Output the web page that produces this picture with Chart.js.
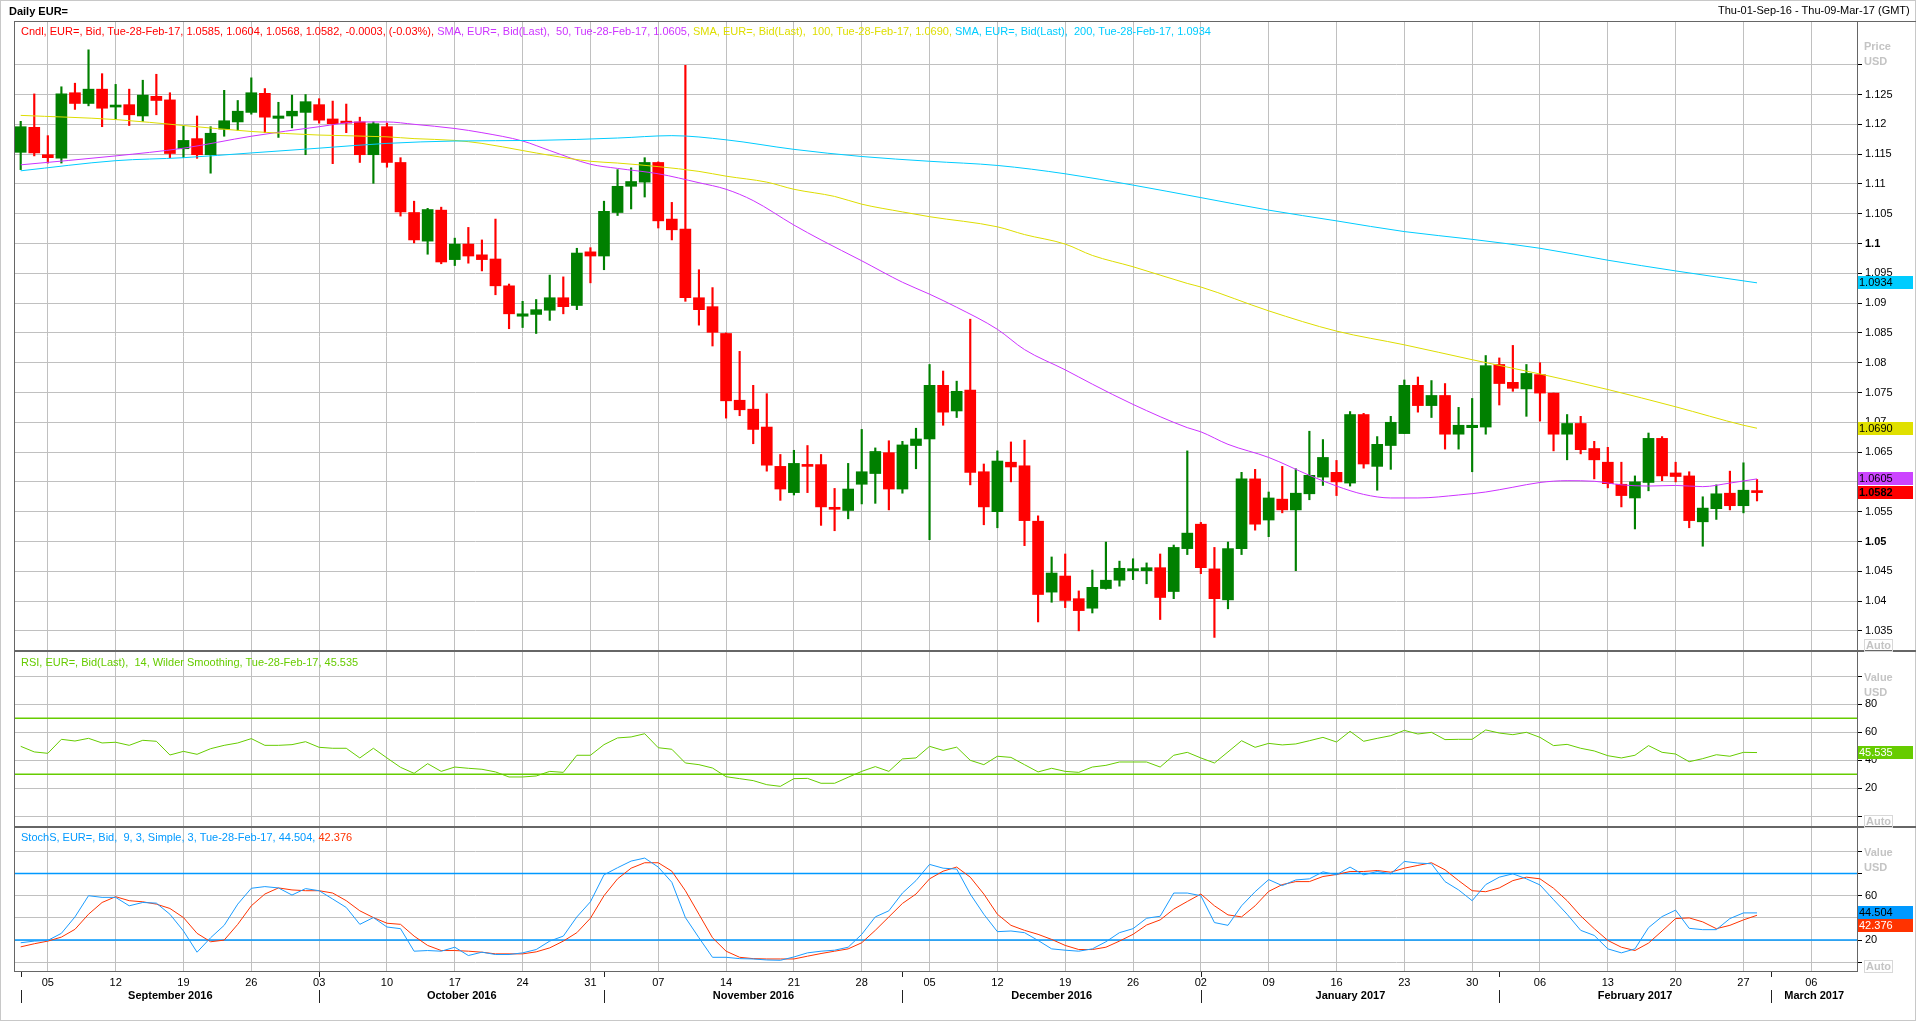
<!DOCTYPE html>
<html><head><meta charset="utf-8">
<script src="https://cdn.jsdelivr.net/npm/chart.js@4.4.0/dist/chart.umd.min.js"></script>
<style>
body{margin:0;background:#fff;font-family:'Liberation Sans',Arial,sans-serif;}
#wrap{position:relative;width:1916px;height:1022px;overflow:hidden;background:#fff;}
canvas{position:absolute;left:0;}
.t{position:absolute;font-size:11px;white-space:pre;line-height:13px;}
.ln{position:absolute;background:#666;}
.g{color:#c4c4c4;font-weight:bold;}
.auto{position:absolute;font-size:11px;line-height:11px;color:#c4c4c4;border:1px solid #d8d8d8;padding:0 1px;font-weight:bold;}
</style></head><body>
<div id="wrap">
<canvas id="c1" width="1916" height="629" style="top:22px"></canvas>
<canvas id="c2" width="1916" height="176" style="top:651px"></canvas>
<canvas id="c3" width="1916" height="195" style="top:827px"></canvas>

<div style="position:absolute;left:0;top:0;width:1914px;height:1019px;border:1px solid #c8c8c8;"></div>
<div class="ln" style="left:14px;top:21px;width:1902px;height:1px;"></div>
<div class="ln" style="left:14px;top:650px;width:1902px;height:2px;"></div>
<div class="ln" style="left:14px;top:826px;width:1902px;height:2px;"></div>
<div class="ln" style="left:14px;top:971px;width:1844px;height:1px;"></div>
<div class="ln" style="left:14px;top:21px;width:1px;height:951px;"></div>
<div class="ln" style="left:1857px;top:21px;width:1px;height:951px;"></div>

<div class="t" style="left:9px;top:5px;font-weight:bold;color:#000;">Daily EUR=</div>
<div class="t" style="left:1718px;top:4px;color:#000;">Thu-01-Sep-16 - Thu-09-Mar-17 (GMT)</div>
<div class="t" style="left:21px;top:25px;"><span style="color:#ff0000">Cndl, EUR=, Bid, Tue-28-Feb-17, 1.0585, 1.0604, 1.0568, 1.0582, -0.0003, (-0.03%), </span><span style="color:#cc33ff">SMA, EUR=, Bid(Last),  50, Tue-28-Feb-17, 1.0605, </span><span style="color:#dede00">SMA, EUR=, Bid(Last),  100, Tue-28-Feb-17, 1.0690, </span><span style="color:#00ccff">SMA, EUR=, Bid(Last),  200, Tue-28-Feb-17, 1.0934</span></div>
<div class="t" style="left:21px;top:656px;color:#66cc00;">RSI, EUR=, Bid(Last),  14, Wilder Smoothing, Tue-28-Feb-17, 45.535</div>
<div class="t" style="left:21px;top:831px;"><span style="color:#0099ff">StochS, EUR=, Bid,  9, 3, Simple, 3, Tue-28-Feb-17, 44.504, </span><span style="color:#ff3300">42.376</span></div>

<div class="t g" style="left:1864px;top:40px;">Price</div>
<div class="t g" style="left:1864px;top:55px;">USD</div>
<div class="auto" style="left:1864px;top:639px;">Auto</div>
<div class="t g" style="left:1864px;top:671px;">Value</div>
<div class="t g" style="left:1864px;top:686px;">USD</div>
<div class="auto" style="left:1864px;top:815px;">Auto</div>
<div class="t g" style="left:1864px;top:846px;">Value</div>
<div class="t g" style="left:1864px;top:861px;">USD</div>
<div class="auto" style="left:1864px;top:960px;">Auto</div>
</div>
<script>
// ---------- data (index 0 = Thu 01-Sep-2016, one slot per weekday) ----------
const openP = [1.1153,1.1195,1.1149,1.1143,1.1253,1.1235,1.1259,1.1229,1.1233,1.1214,
1.1247,1.1241,1.1159,1.1176,1.1149,1.1192,1.1204,1.1220,1.1252,1.1210,
1.1214,1.1220,1.1233,1.1209,1.1204,1.1204,1.1149,1.1196,1.1136,1.1052,
1.1004,1.1056,1.0973,1.0999,1.0981,1.0974,1.0929,1.0878,1.0881,1.0888,
1.0909,1.0896,1.0986,1.0979,1.1052,1.1096,1.1103,1.1136,1.1041,1.1024,
1.0909,1.0894,1.0849,1.0737,1.0722,1.0692,1.0626,1.0582,1.0629,1.0629,
1.0557,1.0552,1.0596,1.0614,1.0649,1.0588,1.0661,1.0672,1.0762,1.0719,
1.0754,1.0617,1.0550,1.0633,1.0627,1.0534,1.0415,1.0442,1.0404,1.0388,
1.0421,1.0435,1.0451,1.0451,1.0456,1.0416,1.0488,1.0529,1.0454,1.0402,
1.0488,1.0605,1.0536,1.0571,1.0553,1.0580,1.0608,1.0616,1.0598,1.0713,
1.0626,1.0661,1.0681,1.0762,1.0728,1.0745,1.0680,1.0691,1.0692,1.0797,
1.0767,1.0756,1.0780,1.0749,1.0680,1.0698,1.0656,1.0633,1.0596,1.0573,
1.0599,1.0673,1.0615,1.0610,1.0533,1.0555,1.0581,1.0560,1.0585];
const highP = [1.1205,1.1251,1.1181,1.1263,1.1269,1.1325,1.1285,1.1267,1.1259,1.1274,
1.1284,1.1253,1.1197,1.1214,1.1196,1.1257,1.1240,1.1278,1.1260,1.1237,
1.1249,1.1250,1.1243,1.1239,1.1234,1.1212,1.1204,1.1202,1.1144,1.1071,
1.1059,1.1061,1.1009,1.1027,1.1006,1.1041,1.0932,1.0903,1.0906,1.0947,
1.0944,1.0992,1.0993,1.1071,1.1124,1.1127,1.1144,1.1137,1.1069,1.1299,
1.0956,1.0926,1.0850,1.0819,1.0762,1.0748,1.0646,1.0653,1.0661,1.0646,
1.0589,1.0631,1.0688,1.0657,1.0669,1.0668,1.0690,1.0797,1.0786,1.0769,
1.0873,1.0630,1.0652,1.0667,1.0670,1.0543,1.0474,1.0479,1.0417,1.0452,
1.0499,1.0467,1.0471,1.0464,1.0479,1.0494,1.0652,1.0532,1.0490,1.0499,
1.0616,1.0621,1.0583,1.0626,1.0622,1.0685,1.0671,1.0636,1.0718,1.0715,
1.0676,1.0710,1.0771,1.0776,1.0770,1.0765,1.0725,1.0740,1.0812,1.0808,
1.0829,1.0797,1.0800,1.0749,1.0713,1.0710,1.0668,1.0658,1.0633,1.0610,
1.0682,1.0676,1.0633,1.0617,1.0575,1.0595,1.0618,1.0632,1.0604];
const lowP = [1.1124,1.1147,1.1135,1.1135,1.1225,1.1231,1.1196,1.1209,1.1198,1.1205,
1.1216,1.1144,1.1144,1.1143,1.1118,1.1180,1.1190,1.1217,1.1186,1.1178,
1.1194,1.1149,1.1202,1.1134,1.1186,1.1136,1.1101,1.1128,1.1046,1.1001,
1.0982,1.0966,1.0963,1.0967,1.0954,1.0914,1.0857,1.0859,1.0849,1.0871,
1.0882,1.0889,1.0934,1.0956,1.1047,1.1058,1.1078,1.1026,1.1006,1.0903,
1.0863,1.0828,1.0707,1.0711,1.0664,1.0618,1.0569,1.0578,1.0582,1.0527,
1.0518,1.0538,1.0563,1.0564,1.0553,1.0581,1.0622,1.0503,1.0695,1.0708,
1.0595,1.0528,1.0523,1.0600,1.0493,1.0365,1.0398,1.0389,1.0350,1.0380,
1.0420,1.0425,1.0436,1.0429,1.0369,1.0404,1.0478,1.0446,1.0339,1.0387,
1.0478,1.0519,1.0508,1.0548,1.0451,1.0570,1.0594,1.0577,1.0593,1.0623,
1.0586,1.0621,1.0681,1.0717,1.0708,1.0655,1.0655,1.0617,1.0680,1.0729,
1.0752,1.0710,1.0702,1.0652,1.0637,1.0647,1.0605,1.0590,1.0558,1.0521,
1.0585,1.0602,1.0600,1.0523,1.0492,1.0537,1.0553,1.0548,1.0568];
const closeP = [1.1196,1.1152,1.1144,1.1251,1.1235,1.1259,1.1227,1.1232,1.1216,1.1249,
1.1240,1.1151,1.1173,1.1149,1.1185,1.1206,1.1222,1.1253,1.1212,1.1214,
1.1222,1.1238,1.1207,1.1201,1.1202,1.1149,1.1201,1.1136,1.1053,1.1006,
1.1057,1.0969,1.0999,1.0979,1.0973,1.0929,1.0882,1.0882,1.0889,1.0909,
1.0894,1.0984,1.0979,1.1054,1.1096,1.1104,1.1136,1.1038,1.1023,1.0909,
1.0889,1.0851,1.0736,1.0721,1.0688,1.0628,1.0588,1.0631,1.0626,1.0558,
1.0554,1.0588,1.0617,1.0651,1.0588,1.0662,1.0672,1.0762,1.0717,1.0752,
1.0616,1.0558,1.0635,1.0625,1.0535,1.0411,1.0447,1.0401,1.0384,1.0423,
1.0435,1.0455,1.0454,1.0456,1.0406,1.0490,1.0514,1.0456,1.0404,1.0488,
1.0605,1.0529,1.0573,1.0553,1.0581,1.0611,1.0641,1.0600,1.0713,1.0630,
1.0663,1.0700,1.0762,1.0728,1.0745,1.0680,1.0695,1.0695,1.0795,1.0765,
1.0757,1.0782,1.0749,1.0680,1.0698,1.0654,1.0637,1.0597,1.0577,1.0600,
1.0673,1.0610,1.0609,1.0535,1.0556,1.0580,1.0560,1.0586,1.0582];

const sma50Idx = [0,7,12,17,22,25,27,29,32,34,37,39,42,44,47,50,52,54,57,59,62,65,67,69,72,74,77,79,82,86,87,89,92,95,97,99,101,103,106,108,110,112,114,116,118,120,122,124,126,128];
const sma50Val = [1.1132,1.1147,1.1160,1.1180,1.1196,1.1204,1.1204,1.1200,1.1193,1.1186,1.1172,1.1156,1.1133,1.1126,1.1117,1.1102,1.1091,1.1072,1.1031,1.1006,1.0971,1.0935,1.0915,1.0893,1.0856,1.0822,1.0788,1.0764,1.0730,1.0691,1.0684,1.0663,1.0641,1.0611,1.0593,1.0579,1.0573,1.0573,1.0578,1.0583,1.0591,1.0599,1.0602,1.0601,1.0595,1.0593,1.0594,1.0592,1.0598,1.0605];
const sma100Idx = [0,7,12,17,22,27,29,32,34,37,39,42,44,47,50,52,55,57,60,62,65,67,72,74,77,79,82,86,87,92,97,102,107,112,117,122,127,128];
const sma100Val = [1.1215,1.1208,1.1198,1.1188,1.1182,1.1179,1.1176,1.1173,1.1168,1.1156,1.1148,1.1138,1.1135,1.1129,1.1121,1.1113,1.1103,1.1091,1.1079,1.1066,1.1053,1.1045,1.1028,1.1015,1.0999,1.0980,1.0961,1.0933,1.0927,1.0887,1.0853,1.0830,1.0805,1.0781,1.0755,1.0726,1.0695,1.0690];
const sma200Idx = [0,7,12,17,22,27,32,38,44,48,52,57,62,67,72,77,82,87,92,97,102,107,112,117,122,128];
const sma200Val = [1.1122,1.1139,1.1144,1.1152,1.1160,1.1168,1.1172,1.1173,1.1177,1.1181,1.1174,1.1158,1.1146,1.1138,1.1131,1.1117,1.1098,1.1077,1.1056,1.1038,1.1020,1.1007,1.0992,1.0972,1.0954,1.0934];

const rsi14 = [50.0,46.0,45.0,55.0,53.8,55.7,52.4,52.9,50.7,54.3,
53.6,43.8,46.4,44.3,48.3,50.7,52.4,55.5,50.7,50.7,
51.2,53.3,49.3,48.6,48.6,41.7,48.6,41.7,35.0,30.7,
37.6,32.1,35.2,34.3,33.6,31.7,28.1,28.1,28.8,32.1,
31.4,43.6,43.6,51.2,56.0,56.7,59.0,49.0,47.9,38.1,
36.9,34.5,28.3,26.9,25.5,22.6,21.4,26.9,27.1,23.6,
23.6,27.9,32.1,35.5,32.1,41.0,41.7,50.0,47.1,49.4,
40.0,36.9,42.9,42.1,36.9,31.7,34.3,32.1,31.4,35.2,
36.4,38.8,38.8,38.8,35.2,43.6,45.7,41.7,38.1,46.0,
54.0,49.3,52.1,51.0,51.7,54.0,56.4,53.1,60.7,53.6,
55.7,57.6,61.4,58.8,60.0,54.8,55.0,55.0,61.7,59.5,
58.3,60.0,56.4,50.5,51.4,48.6,46.7,43.3,41.7,43.6,
50.5,45.7,44.5,39.0,41.2,44.0,42.9,45.7,45.535];
const stochK = [17.6,19.1,19.7,26.1,40.9,60.0,58.5,58.5,50.9,53.9,
53.3,43.3,28.2,9.1,22.1,33.3,52.4,66.7,68.2,67.0,
60.6,66.4,64.5,57.0,49.4,34.2,40.3,31.8,30.3,10.0,
10.6,10.0,13.6,6.1,9.1,7.0,7.0,8.5,11.5,19.1,
23.6,40.9,54.5,78.8,85.2,91.2,93.9,85.8,72.1,40.3,
22.1,4.5,4.5,3.3,3.0,2.1,1.8,4.8,8.5,10.0,
10.9,13.6,25.2,40.9,46.4,62.4,73.6,88.2,84.8,84.0,
61.5,43.3,27.6,28.2,26.7,19.7,12.1,10.9,10.0,12.1,
18.5,26.7,30.3,39.7,41.5,62.4,62.4,60.0,35.8,33.3,
50.9,63.6,74.5,69.1,74.2,75.2,81.5,78.8,85.8,78.8,
81.8,79.7,90.9,89.4,88.8,72.7,65.2,55.5,70.0,76.7,
79.7,75.2,69.7,56.4,43.3,28.8,24.2,12.1,8.5,12.1,
31.2,41.2,47.0,30.6,29.4,29.4,39.4,44.5,44.504];
const stochD = [13.9,16.7,19.1,22.7,29.7,43.3,53.9,59.1,55.5,54.5,
52.4,48.5,40.3,26.1,18.5,20.0,34.2,50.9,61.5,67.0,
65.2,64.5,64.5,62.4,55.5,46.4,40.3,35.2,34.2,23.6,
15.2,10.6,10.6,10.0,9.1,7.6,7.6,7.6,9.4,13.0,
19.1,26.7,39.7,60.0,75.2,84.8,89.7,89.7,82.1,64.5,
43.3,22.1,10.0,4.5,3.3,3.0,3.0,3.0,5.5,7.9,
10.0,12.1,17.6,28.8,40.9,53.0,61.5,75.2,82.1,85.8,
76.7,61.5,43.3,33.3,28.8,25.2,20.6,15.2,11.5,11.5,
13.6,19.1,25.2,33.6,38.2,47.9,54.8,61.5,50.9,42.7,
40.9,50.9,63.9,70.0,72.7,72.7,77.3,79.1,81.8,81.8,
82.7,81.2,84.8,87.3,89.7,83.3,73.6,64.5,63.6,67.0,
73.6,76.7,75.2,66.7,55.5,41.8,30.3,19.7,13.6,10.6,
17.3,28.2,39.4,40.0,36.4,30.3,33.3,38.2,42.376];

// ---------- axis labels ----------
const dayTickIdx = [2,7,12,17,22,27,32,37,42,47,52,57,62,67,72,77,82,87,92,97,102,107,112,117,122,127,132];
const dayTickLabels = ['05','12','19','26','03','10','17','24','31','07','14','21','28','05','12','19','26','02','09','16','23','30','06','13','20','27','06'];
const monthStartIdx = [0,22,43,65,87,109,129];
const monthNames = ['September 2016','October 2016','November 2016','December 2016','January 2017','February 2017','March 2017'];
const priceTicks = [1.035,1.04,1.045,1.05,1.055,1.06,1.065,1.07,1.075,1.08,1.085,1.09,1.095,1.1,1.105,1.11,1.115,1.12,1.125,1.13];
const oscTicks = [0,20,40,60,80,100];

// ---------- common settings ----------
const FONT = '"Liberation Sans", Arial, sans-serif';
const XMIN = -0.42, XMAX = 135.37;
const GRID = '#c0c0c0';
const UP = '#008000', DOWN = '#ff0000';

function zeroPad(s){ s.paddingTop = 0; s.paddingBottom = 0; s.paddingLeft = 0; s.paddingRight = 0; }
function xAxis(showLabels){
  return {
    type:'linear', min:XMIN, max:XMAX, offset:false,
    afterBuildTicks: s => { s.ticks = dayTickIdx.map(v => ({value:v})); },
    ticks:{ display:showLabels, autoSkip:false, maxRotation:0, padding:4, color:'#000',
      font:{family:FONT, size:11},
      callback: v => { const k = dayTickIdx.indexOf(v); return k >= 0 ? dayTickLabels[k] : ''; } },
    grid:{ color:GRID, lineWidth:1, drawTicks:false, offset:false },
    border:{ display:false },
    afterFit: s => { s.height = showLabels ? 50 : 0; zeroPad(s); }
  };
}
function yAxis(min, max, ticks, labelFn, boldFn){
  return {
    position:'right', min:min, max:max,
    afterBuildTicks: s => { s.ticks = ticks.map(v => ({value:v})); },
    ticks:{ padding:3, color:'#000', autoSkip:false,
      font: c => ({family:FONT, size:11, weight: boldFn && c.tick && boldFn(c.tick.value) ? 'bold' : 'normal'}),
      callback: labelFn },
    grid:{ color:GRID, lineWidth:1, tickLength:5, tickColor:'#000', drawTicks:true },
    border:{ display:false },
    afterFit: s => { s.width = 59; zeroPad(s); }
  };
}
function boxPlugin(items){
  return { id:'valueBoxes', afterDraw(chart){
    const ctx = chart.ctx, ys = chart.scales.y, ca = chart.chartArea, h = 13;
    const list = items.map(it => Object.assign({}, it, {py: ys.getPixelForValue(it.value)})).sort((a,b) => a.py - b.py);
    let prev = -1e9;
    ctx.save();
    list.forEach(it => {
      let top = Math.round(it.py - h/2);
      if (top < prev) top = prev;
      prev = top + h;
      ctx.fillStyle = it.bg; ctx.fillRect(ca.right + 1, top, 55, h);
      ctx.fillStyle = it.fg; ctx.font = (it.bold ? 'bold ' : '') + '11px ' + FONT;
      ctx.textAlign = 'left'; ctx.textBaseline = 'middle';
      ctx.fillText(it.text, ca.right + 2, top + h/2 + 0.5);
    });
    ctx.restore();
  }};
}
const baseOpts = { responsive:false, animation:false, devicePixelRatio:1,
  plugins:{ legend:{display:false}, tooltip:{enabled:false} },
  layout:{ padding:{left:15, right:0, top:0, bottom:0} } };

const idx = closeP.map((_, i) => i);
const candleColors = idx.map(i => closeP[i] >= openP[i] ? UP : DOWN);
const pts = (ix, vals) => ix.map((x, k) => ({x:x, y:vals[k]}));
const lineDs = (data, color, order, width) => ({ type:'line', data:data, borderColor:color, borderWidth:width||1,
  pointRadius:0, fill:false, cubicInterpolationMode:'monotone', order:order });

// ---------- price chart ----------
new Chart(document.getElementById('c1'), {
  type:'bar',
  data:{ datasets:[
    lineDs(pts(sma200Idx, sma200Val), '#00ccff', 0),
    lineDs(pts(sma100Idx, sma100Val), '#dddd00', 0),
    lineDs(pts(sma50Idx, sma50Val), '#cc33ff', 0),
    { type:'bar', data: idx.map(i => ({x:i, y:[Math.min(openP[i], closeP[i]), Math.max(openP[i], closeP[i])]})),
      backgroundColor:candleColors, borderWidth:0, barThickness:11, minBarLength:2, grouped:false, order:1 },
    { type:'bar', data: idx.map(i => ({x:i, y:[lowP[i], highP[i]]})),
      backgroundColor:candleColors, borderWidth:0, barThickness:1.5, grouped:false, order:2 }
  ]},
  options: Object.assign({}, baseOpts, {
    scales:{
      x: xAxis(false),
      y: yAxis(1.03162, 1.13717, priceTicks,
        v => Math.abs(v - 1.13) < 1e-6 ? '' : String(Number(v.toFixed(3))),
        v => Math.abs(v - 1.1) < 1e-6 || Math.abs(v - 1.05) < 1e-6)
    }
  }),
  plugins:[ boxPlugin([
    {value:sma200Val[sma200Val.length-1], text:sma200Val[sma200Val.length-1].toFixed(4), bg:'#00ccff', fg:'#000'},
    {value:sma100Val[sma100Val.length-1], text:sma100Val[sma100Val.length-1].toFixed(4), bg:'#e0e000', fg:'#000'},
    {value:sma50Val[sma50Val.length-1], text:sma50Val[sma50Val.length-1].toFixed(4), bg:'#cc44ff', fg:'#000'},
    {value:closeP[closeP.length-1], text:closeP[closeP.length-1].toFixed(4), bg:'#ff0000', fg:'#000', bold:true}
  ]) ]
});

// ---------- RSI chart ----------
new Chart(document.getElementById('c2'), {
  type:'line',
  data:{ datasets:[
    lineDs([{x:XMIN,y:70},{x:XMAX,y:70}], '#66cc00', 1, 1.5),
    lineDs([{x:XMIN,y:30},{x:XMAX,y:30}], '#66cc00', 1, 1.5),
    Object.assign(lineDs(idx.map(i => ({x:i, y:rsi14[i]})), '#66cc00', 0), {cubicInterpolationMode:'default', tension:0})
  ]},
  options: Object.assign({}, baseOpts, {
    scales:{ x: xAxis(false),
      y: yAxis(-7.64, 118.1, oscTicks, v => (v >= 20 && v <= 80) ? String(v) : '') }
  }),
  plugins:[ boxPlugin([{value:rsi14[rsi14.length-1], text:rsi14[rsi14.length-1].toFixed(3), bg:'#66cc00', fg:'#fff'}]) ]
});

// ---------- Stochastic chart ----------
const monthPlugin = { id:'months', afterDraw(chart){
  const ctx = chart.ctx, xs = chart.scales.x, ca = chart.chartArea;
  ctx.save();
  ctx.strokeStyle = '#222'; ctx.lineWidth = 1; ctx.fillStyle = '#000';
  ctx.font = 'bold 11px ' + FONT; ctx.textAlign = 'center'; ctx.textBaseline = 'middle';
  monthStartIdx.forEach((s, k) => {
    const x = Math.round(xs.getPixelForValue(s)) + 0.5;
    ctx.beginPath();
    ctx.moveTo(x, ca.bottom); ctx.lineTo(x, ca.bottom + 5);
    ctx.moveTo(x, ca.bottom + 18); ctx.lineTo(x, ca.bottom + 31);
    ctx.stroke();
    const xe = k + 1 < monthStartIdx.length ? xs.getPixelForValue(monthStartIdx[k+1]) : ca.right;
    ctx.fillText(monthNames[k], (x + xe) / 2, ca.bottom + 24);
  });
  ctx.restore();
}};
new Chart(document.getElementById('c3'), {
  type:'line',
  data:{ datasets:[
    lineDs([{x:XMIN,y:80},{x:XMAX,y:80}], '#0099ff', 2, 1.5),
    lineDs([{x:XMIN,y:20},{x:XMAX,y:20}], '#0099ff', 2, 1.5),
    Object.assign(lineDs(idx.map(i => ({x:i, y:stochD[i]})), '#ff3300', 1), {cubicInterpolationMode:'default', tension:0}),
    Object.assign(lineDs(idx.map(i => ({x:i, y:stochK[i]})), '#1a9cff', 0), {cubicInterpolationMode:'default', tension:0})
  ]},
  options: Object.assign({}, baseOpts, {
    scales:{ x: xAxis(true),
      y: yAxis(-8.74, 121.9, oscTicks, v => (v >= 20 && v <= 60) ? String(v) : '') }
  }),
  plugins:[ monthPlugin, boxPlugin([
    {value:stochK[stochK.length-1], text:stochK[stochK.length-1].toFixed(3), bg:'#0099ff', fg:'#000'},
    {value:stochD[stochD.length-1], text:stochD[stochD.length-1].toFixed(3), bg:'#ff3300', fg:'#fff'}
  ]) ]
});
</script>
</body></html>
